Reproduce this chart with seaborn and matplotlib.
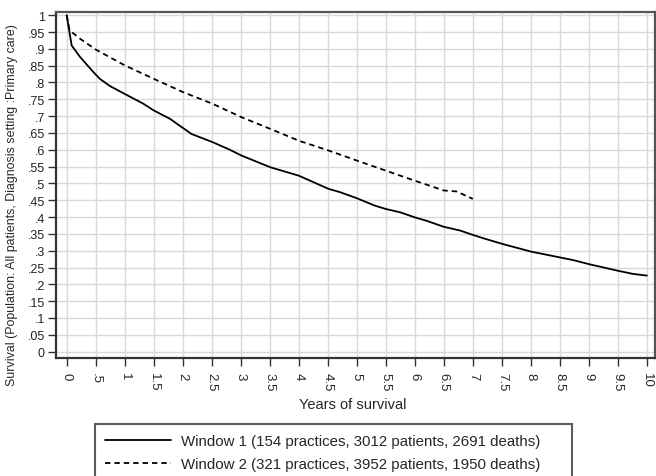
import numpy as np
import pandas as pd
import matplotlib
matplotlib.use("Agg")
import matplotlib.pyplot as plt
import seaborn as sns
from matplotlib.ticker import FuncFormatter, MultipleLocator

# Window 1 survival curve
w1_years = [0.0, 0.086, 0.23, 0.46, 0.57, 0.75, 1.0, 1.32, 1.5, 1.78, 2.15, 2.51, 2.8,
            3.01, 3.51, 4.0, 4.51, 4.71, 5.0, 5.31, 5.5, 5.75, 6.0, 6.2, 6.5, 6.78,
            7.0, 7.18, 7.51, 8.01, 8.5, 8.73, 9.0, 9.51, 9.76, 10.0]
w1_surv = [1.0, 0.910, 0.876, 0.831, 0.811, 0.789, 0.766, 0.737, 0.717, 0.692, 0.647,
           0.623, 0.601, 0.583, 0.548, 0.523, 0.484, 0.474, 0.456, 0.434, 0.424, 0.414,
           0.399, 0.389, 0.371, 0.360, 0.347, 0.337, 0.320, 0.297, 0.280, 0.272, 0.260,
           0.240, 0.231, 0.226]

# Window 2 survival curve
w2_years = [0.0, 0.05, 0.23, 0.5, 1.0, 1.5, 2.01, 2.51, 3.01, 3.51, 4.0, 4.51, 5.0,
            5.5, 6.0, 6.38, 6.5, 6.72, 7.0]
w2_surv = [1.0, 0.955, 0.930, 0.898, 0.851, 0.811, 0.771, 0.737, 0.697, 0.662, 0.627,
           0.598, 0.568, 0.538, 0.508, 0.486, 0.479, 0.476, 0.454]

labels = ["Window 1 (154 practices, 3012 patients, 2691 deaths)",
          "Window 2 (321 practices, 3952 patients, 1950 deaths)"]

df1 = pd.DataFrame({"years": w1_years, "surv": w1_surv, "window": labels[0]})
df2 = pd.DataFrame({"years": w2_years, "surv": w2_surv, "window": labels[1]})

sns.set_style("white")
plt.rcParams["font.family"] = ["Liberation Sans", "DejaVu Sans"]

fig = plt.figure(figsize=(6.56, 4.77), dpi=100)
ax = fig.add_axes([56/656, (477-359)/477, (655-56)/656, (359-13)/477])

sns.lineplot(data=df1, x="years", y="surv", ax=ax, color="black", lw=1.3,
             label=labels[0], estimator=None)
sns.lineplot(data=df2, x="years", y="surv", ax=ax, color="black", lw=1.3,
             linestyle=(0, (3, 2.2)), label=labels[1], estimator=None)

ax.set_xlim(-0.184, 10.14)
ax.set_ylim(-0.019, 1.0095)
ax.xaxis.set_major_locator(MultipleLocator(0.5))
ax.yaxis.set_major_locator(MultipleLocator(0.05))

def fmt(v, pos):
    s = f"{v:.2f}".rstrip("0").rstrip(".")
    if s.startswith("0."):
        s = s[1:]
    if s == "-0":
        s = "0"
    return s

ax.xaxis.set_major_formatter(FuncFormatter(fmt))
ax.yaxis.set_major_formatter(FuncFormatter(fmt))
ax.grid(True, color="#d9d9d9", lw=1.0)
ax.set_axisbelow(True)
ax.tick_params(axis="y", which="major", direction="out", length=6, width=1,
               color="#333333", labelsize=9, pad=2, left=True)
ax.tick_params(axis="x", which="major", direction="out", length=6, width=1,
               color="#333333", labelsize=9.5, pad=4, bottom=True)
for lbl in ax.get_xticklabels():
    lbl.set_rotation(-90)
for side in ["left", "bottom"]:
    ax.spines[side].set_color("#333333")
    ax.spines[side].set_linewidth(1.6)
for side in ["top", "right"]:
    ax.spines[side].set_color("#555555")
    ax.spines[side].set_linewidth(1.6)

ax.set_xlabel("Years of survival", fontsize=10.5)
ax.xaxis.set_label_coords(0.495, (359-398)/346)
ax.set_ylabel("Survival (Population: All patients, Diagnosis setting :Primary care)",
              fontsize=8.9)
ax.yaxis.set_label_coords((18-56)/599, (359-205)/346)

ax.get_legend().remove()
handles, lab = ax.get_legend_handles_labels()
leg = fig.legend(handles, lab, loc="upper left",
                 bbox_to_anchor=(95/656, (477-425)/477, (572-95)/656, 0.0),
                 mode="expand",
                 frameon=True, fancybox=False, fontsize=10.8, handlelength=4.4,
                 borderpad=0.65, labelspacing=0.65, handletextpad=0.7, borderaxespad=0)
leg.get_frame().set_edgecolor("#333333")
leg.get_frame().set_linewidth(1.5)

fig.savefig("out.png", dpi=100)
